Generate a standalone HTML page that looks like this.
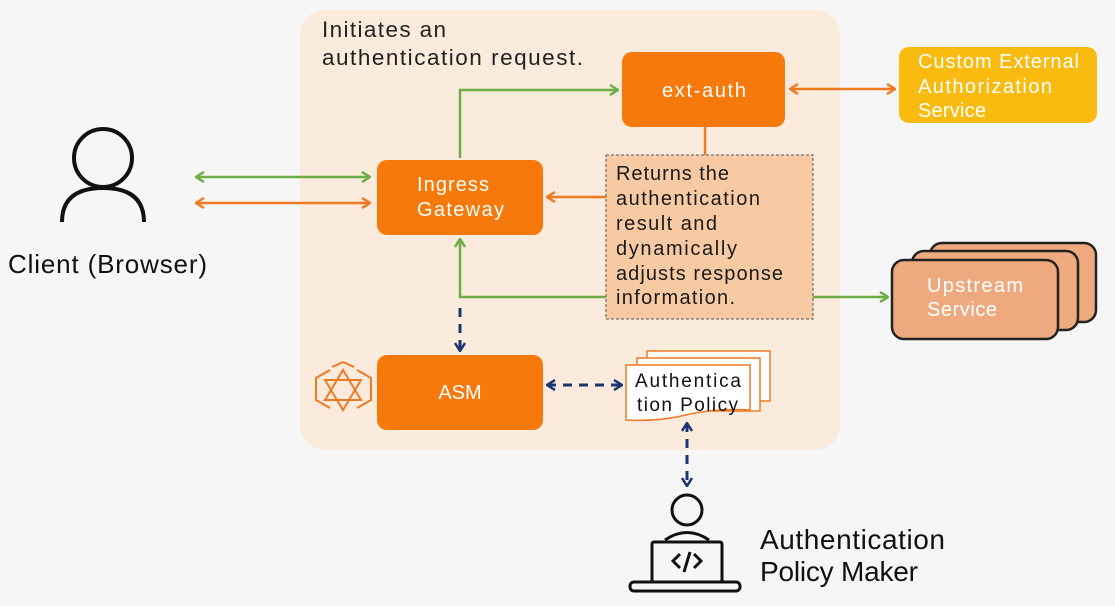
<!DOCTYPE html><html><head><style>body{margin:0;background:#f6f6f6}svg{display:block}text{font-family:"Liberation Sans","DejaVu Sans",sans-serif}</style></head><body>
<svg width="1115" height="606" viewBox="0 0 1115 606" xmlns="http://www.w3.org/2000/svg">
<defs>
<marker id="g" markerWidth="10" markerHeight="12" refX="9" refY="6" orient="auto-start-reverse" markerUnits="userSpaceOnUse"><path d="M1,1 L9,6 L1,11" fill="none" stroke="#6cae45" stroke-width="2.5"/></marker>
<marker id="o" markerWidth="10" markerHeight="12" refX="9" refY="6" orient="auto-start-reverse" markerUnits="userSpaceOnUse"><path d="M1,1 L9,6 L1,11" fill="none" stroke="#f07a22" stroke-width="2.5"/></marker>
<marker id="b" markerWidth="10" markerHeight="12" refX="9" refY="6" orient="auto-start-reverse" markerUnits="userSpaceOnUse"><path d="M1,1 L9,6 L1,11" fill="none" stroke="#1a3570" stroke-width="2.5"/></marker>
</defs>
<rect width="1115" height="606" fill="#f6f6f6"/>
<rect x="300" y="10" width="540" height="440" rx="25" fill="#fbebdc"/>
<text x="322" y="37" font-size="22.5" fill="#222" textLength="124" lengthAdjust="spacing">Initiates an</text>
<text x="322" y="65" font-size="22.5" fill="#222" textLength="261" lengthAdjust="spacing">authentication request.</text>
<g fill="none" stroke-width="2.5">
<polyline points="460,158 460,90 618,90" stroke="#6cae45" marker-end="url(#g)"/>
<line x1="705" y1="127" x2="705" y2="156" stroke="#f07a22"/>
<line x1="606" y1="197" x2="547" y2="197" stroke="#f07a22" marker-end="url(#o)"/>
<polyline points="606,297 460,297 460,239" stroke="#6cae45" marker-end="url(#g)"/>
<line x1="813" y1="297" x2="888" y2="297" stroke="#6cae45" marker-end="url(#g)"/>
<line x1="790" y1="89" x2="895" y2="89" stroke="#f07a22" marker-start="url(#o)" marker-end="url(#o)"/>
<line x1="196" y1="177" x2="370" y2="177" stroke="#6cae45" marker-start="url(#g)" marker-end="url(#g)"/>
<line x1="196" y1="203" x2="370" y2="203" stroke="#f07a22" marker-start="url(#o)" marker-end="url(#o)"/>
<line x1="460" y1="308" x2="460" y2="351" stroke="#1a3570" stroke-dasharray="9,7" stroke-width="3" marker-end="url(#b)"/>
<line x1="547" y1="385" x2="622" y2="385" stroke="#1a3570" stroke-dasharray="9,7" stroke-width="3" marker-start="url(#b)" marker-end="url(#b)"/>
<line x1="687" y1="423" x2="687" y2="486" stroke="#1a3570" stroke-dasharray="9,7" stroke-width="3" marker-start="url(#b)" marker-end="url(#b)"/>
</g>
<rect x="377" y="160" width="166" height="75" rx="10" fill="#f7780b"/>
<text x="417" y="191" font-size="20" fill="#fff" textLength="72" lengthAdjust="spacing">Ingress</text>
<text x="417" y="216" font-size="20" fill="#fff" textLength="87" lengthAdjust="spacing">Gateway</text>
<rect x="622" y="52" width="163" height="75" rx="10" fill="#f7780b"/>
<text x="662" y="97" font-size="20" fill="#fff" textLength="84" lengthAdjust="spacing">ext-auth</text>
<rect x="377" y="355" width="166" height="75" rx="10" fill="#f7780b"/>
<text x="460" y="399" font-size="20" fill="#fff" text-anchor="middle">ASM</text>
<rect x="606" y="155" width="207" height="164" fill="#f8caa4" stroke="#555" stroke-dasharray="3,2" stroke-width="1"/>
<g font-size="20" fill="#1a1a1a">
<text x="616" y="180" textLength="113" lengthAdjust="spacing">Returns the</text>
<text x="616" y="205" textLength="144" lengthAdjust="spacing">authentication</text>
<text x="616" y="230" textLength="101" lengthAdjust="spacing">result and</text>
<text x="616" y="255" textLength="121" lengthAdjust="spacing">dynamically</text>
<text x="616" y="280" textLength="167" lengthAdjust="spacing">adjusts response</text>
<text x="616" y="304" textLength="119" lengthAdjust="spacing">information.</text></g>
<rect x="899" y="47" width="198" height="76" rx="10" fill="#f9bb10"/>
<g font-size="20" fill="#fff">
<text x="918" y="68" textLength="161" lengthAdjust="spacing">Custom External</text>
<text x="918" y="93" textLength="134" lengthAdjust="spacing">Authorization</text>
<text x="918" y="117" textLength="68" lengthAdjust="spacing">Service</text></g>
<g stroke="#222" stroke-width="2.5" fill="#eeaa7e">
<rect x="930" y="243" width="166" height="79" rx="12"/>
<rect x="912" y="251" width="166" height="79" rx="12"/>
<rect x="892" y="260" width="166" height="79" rx="12"/>
</g>
<text x="927" y="292" font-size="20" fill="#fff" textLength="96" lengthAdjust="spacing">Upstream</text>
<text x="927" y="316" font-size="20" fill="#fff" textLength="70" lengthAdjust="spacing">Service</text>
<g stroke="#f07a22" stroke-width="1.5" fill="#fff">
<rect x="647" y="351" width="123" height="50"/>
<rect x="637" y="358" width="123" height="53"/>
<path d="M626,365 H750 V410 Q720,408 690,414 Q660,422 626,420 Z"/>
</g>
<text x="635" y="387" font-size="19" fill="#111" textLength="106" lengthAdjust="spacing">Authentica</text>
<text x="637" y="411" font-size="19" fill="#111" textLength="101" lengthAdjust="spacing">tion Policy</text>
<g stroke="#f07a22" stroke-width="2" fill="none">
<path d="M330,370 L316,378 V400 L330,408 M357,370 L371,378 V400 L357,408" />
<path d="M343,362 L332,367 M343,362 L354,367" />
<path d="M343,370 L325,400 H361 Z M325,380 H361 L343,410 Z"/>
</g>
<g stroke="#111" stroke-width="4" fill="none">
<circle cx="103" cy="158" r="29"/>
<path d="M62,222 Q62,188 103,188 Q144,188 144,222"/>
</g>
<text x="8" y="273" font-size="26" fill="#111" textLength="199" lengthAdjust="spacing">Client (Browser)</text>
<g stroke="#111" stroke-width="3" fill="none">
<circle cx="687" cy="510" r="15"/>
<path d="M665,540 Q687,525 709,540"/>
<rect x="652" y="542" width="70" height="40" rx="2"/>
<rect x="630" y="582" width="110" height="9" rx="4"/>
<path d="M680,554 l-7,7 7,7 M694,554 l7,7 -7,7 M690,552 l-6,20"/>
</g>
<text x="760" y="549" font-size="28" fill="#111" textLength="185" lengthAdjust="spacing">Authentication</text>
<text x="760" y="581" font-size="28" fill="#111" textLength="158" lengthAdjust="spacing">Policy Maker</text>
</svg></body></html>
